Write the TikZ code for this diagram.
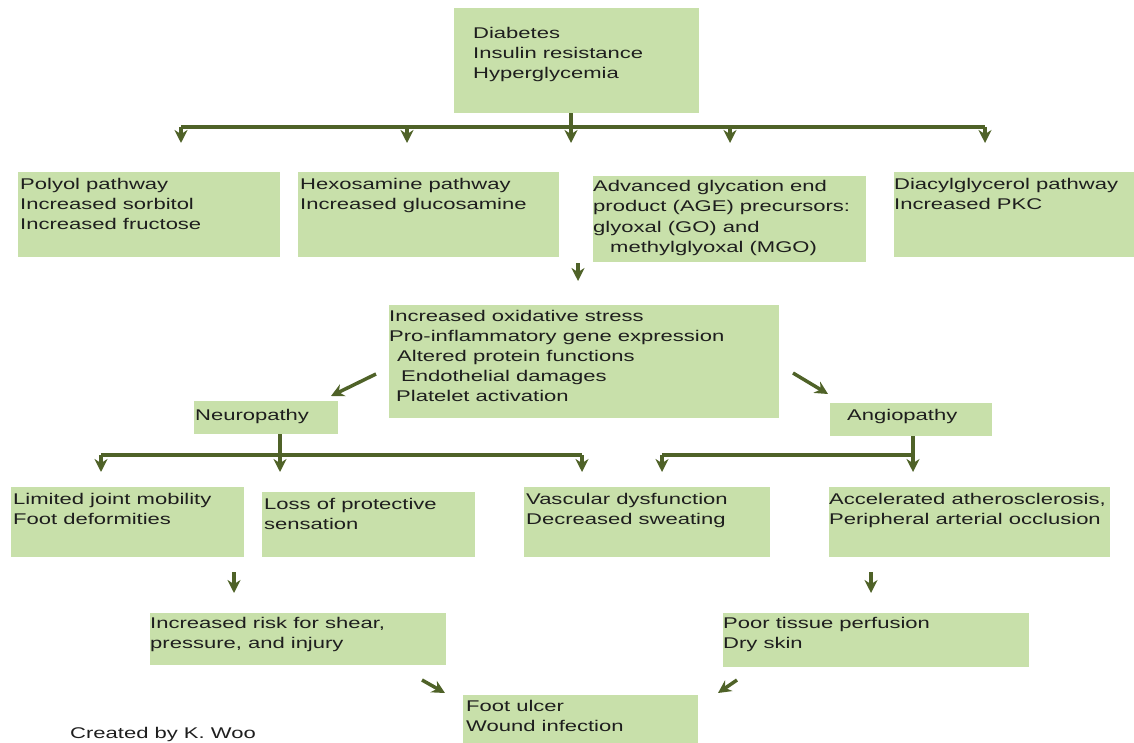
\documentclass[tikz,border=0pt]{standalone}
\usepackage{fontspec}
\setmainfont{Liberation Sans}[FakeStretch=1.42]
\usepackage{xcolor}
\usetikzlibrary{arrows.meta}

\definecolor{boxgreen}{RGB}{200,224,170}
\definecolor{arrowolive}{RGB}{79,98,40}
\definecolor{inkgray}{RGB}{30,30,30}

\tikzset{
    box/.style={fill=boxgreen, anchor=north west, inner sep=0pt},
    txt/.style={anchor=base west, align=left, inner sep=0pt, text=inkgray,
        font=\fontsize{15.5}{20}\selectfont},
    bar/.style={draw=arrowolive, line width=3.5pt},
    flow/.style={draw=arrowolive, line width=3.5pt,
        -{Stealth[length=13pt,width=13pt]}}
}

\begin{document}
\begin{tikzpicture}[x=1pt,y=-1pt]

\useasboundingbox (0,0) rectangle (1134,743);

% green boxes
\foreach \n/\x/\y/\w/\h in {
    top/454/8/245/105,
    polyol/18/172/262/85,
    hexo/298/172/261/85,
    age/593/176/273/86,
    diacyl/894/172/240/85,
    stress/389/305/390/113,
    neuro/194/401/144/33,
    angio/830/403/162/33,
    joint/11/487/233/70,
    loss/262/492/213/65,
    vasc/524/487/246/70,
    ather/829/487/281/70,
    risk/150/613/296/52,
    perf/723/613/306/54,
    ulcer/463/695/235/48} {
    \node[box, minimum width=\w, minimum height=\h] (\n) at (\x,\y) {};
}

% texts (placed at the baseline of the last line)
\node[txt] (top-t)    at (473,79)  {Diabetes\\Insulin resistance\\Hyperglycemia};
\node[txt] (polyol-t) at (20,230)  {Polyol pathway\\Increased sorbitol\\Increased fructose};
\node[txt] (hexo-t)   at (300,210) {Hexosamine pathway\\Increased glucosamine};
\node[txt] (age-t)    at (593,252) {Advanced glycation end\\product (AGE) precursors:\\glyoxal (GO) and\\\hspace{17pt}methylglyoxal (MGO)};
\node[txt] (diacyl-t) at (894,210) {Diacylglycerol pathway\\Increased PKC};
\node[txt] (stress-t) at (389,401) {Increased oxidative stress\\Pro-inflammatory gene expression\\\hspace{8pt}Altered protein functions\\\hspace{12pt}Endothelial damages\\\hspace{7pt}Platelet activation};
\node[txt] (neuro-t)  at (195,420) {Neuropathy};
\node[txt] (angio-t)  at (847,420) {Angiopathy};
\node[txt] (joint-t)  at (13,524)  {Limited joint mobility\\Foot deformities};
\node[txt] (loss-t)   at (264,529) {Loss of protective\\sensation};
\node[txt] (vasc-t)   at (526,524) {Vascular dysfunction\\Decreased sweating};
\node[txt] (ather-t)  at (829,524) {Accelerated atherosclerosis,\\Peripheral arterial occlusion};
\node[txt] (risk-t)   at (150,648) {Increased risk for shear,\\pressure, and injury};
\node[txt] (perf-t)   at (723,648) {Poor tissue perfusion\\Dry skin};
\node[txt] (ulcer-t)  at (466,731) {Foot ulcer\\Wound infection};
\node[txt] (credit)   at (70,738)  {Created by K. Woo};

% first split
\foreach \n/\x in {polyol/181, hexo/407, mid/571, age/730, diacyl/985} {
    \coordinate (d-\n) at (\x,127);
}
\draw[bar] (d-polyol) -- (d-diacyl);
\draw[bar] (top.south -| d-mid) -- (d-mid);
\foreach \n in {polyol, hexo, mid, age, diacyl} {
    \draw[flow] (d-\n) -- ++(0,16);
}

% into the stress box
\coordinate (age-out) at (578,263);
\draw[flow] (age-out) -- ++(0,18);

\coordinate (st-l) at (376,374);
\coordinate (st-r) at (793,373);
\coordinate (neuro-in) at (331,396);
\coordinate (angio-in) at (828,394);
\draw[flow] (st-l) -- (neuro-in);
\draw[flow] (st-r) -- (angio-in);

% second split
\foreach \n/\x in {joint/101, loss/280, vasc/582, vl/662, ather/913} {
    \coordinate (e-\n) at (\x,455);
}
\draw[bar] (e-joint) -- (e-vasc);
\draw[bar] (e-vl) -- (e-ather);
\draw[bar] (neuro.south -| e-loss) -- (e-loss);
\draw[bar] (angio.south -| e-ather) -- (e-ather);
\foreach \n in {joint, loss, vasc, vl, ather} {
    \draw[flow] (e-\n) -- ++(0,17);
}

% towards the ulcer
\coordinate (joint-out) at (234,572);
\coordinate (ather-out) at (871,572);
\draw[flow] (joint-out) -- ++(0,21);
\draw[flow] (ather-out) -- ++(0,21);

\coordinate (risk-out) at (422,680);
\coordinate (perf-out) at (737,680);
\coordinate (ulcer-l) at (445,693);
\coordinate (ulcer-r) at (718,693);
\draw[flow] (risk-out) -- (ulcer-l);
\draw[flow] (perf-out) -- (ulcer-r);

\end{tikzpicture}
\end{document}
